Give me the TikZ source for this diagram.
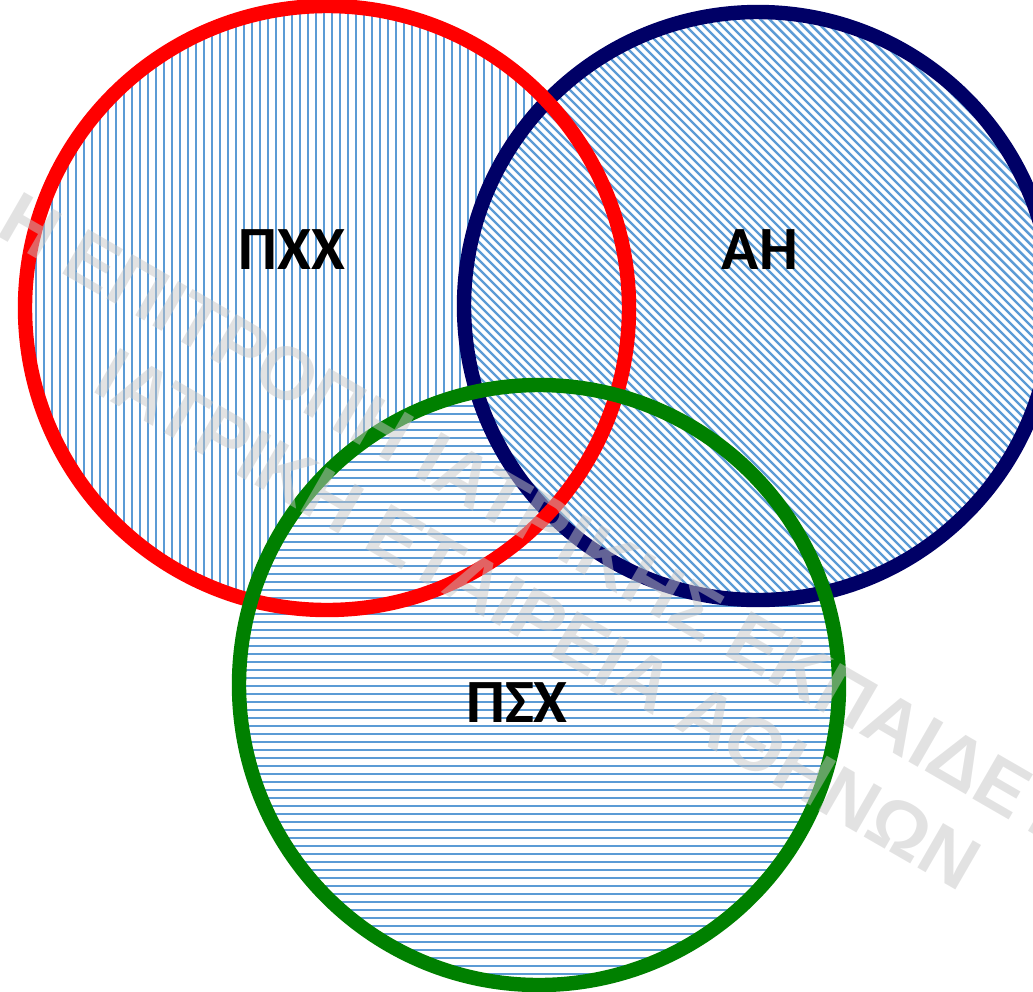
\documentclass[tikz,border=0pt]{standalone}
\usepackage{fontspec}
\setmainfont{Liberation Sans}
\newfontfamily\labelfont{Carlito}
\definecolor{hatchblue}{RGB}{91,155,213}
\definecolor{navyring}{RGB}{0,0,102}
\definecolor{greenring}{RGB}{0,128,0}
\begin{document}
\begin{tikzpicture}[x=0.02cm,y=-0.02cm,
  ring/.style={line width=8.2pt},
  hatch/.style={hatchblue,line width=1.2pt},
  setlabel/.style={font=\labelfont\fontsize{35}{35}\selectfont\bfseries,inner sep=0},
  wmark/.style={gray!45,opacity=0.5,font=\bfseries\fontsize{42.5}{42.5}\selectfont,rotate=-30,anchor=base west,inner sep=0}]
\useasboundingbox (0,0) rectangle (1033,991);
\clip (0,0) rectangle (1033,991);
\coordinate (R) at (327,308);
\coordinate (N) at (758,306);
\coordinate (G) at (539,685);
% red set, vertical lines
\fill[white] (R) circle (302);
\begin{scope}
\clip (R) circle (302);
\foreach \x in {20,28,...,640} \draw[hatch] (\x,0) -- (\x,620);
\end{scope}
% green set, horizontal lines
\fill[white] (G) circle (300);
\begin{scope}
\clip (G) circle (300);
\foreach \y in {382,390,...,990} \draw[hatch] (230,\y) -- (850,\y);
\end{scope}
% navy set, diagonal lines
\fill[white] (N) circle (294);
\begin{scope}
\clip (N) circle (294);
\foreach \c in {-150,-141,...,1060} \draw[hatch,line width=1.4pt] (\c,0) -- ({\c+620},620);
\end{scope}
% rings
\draw[ring,navyring] (N) circle (294);
\draw[ring,red] (R) circle (302);
\draw[ring,greenring] (G) circle (300);
% labels
\node[setlabel] (pxx) at (292,250) {ΠΧΧ};
\node[setlabel] (ah) at (760,250) {ΑΗ};
\node[setlabel] (psx) at (517,703) {ΠΣΧ};
% watermark
\node[wmark] (wm1) at (-6,234) {Η ΕΠΙΤΡΟΠΗ ΙΑΤΡΙΚΗΣ ΕΚΠΑΙΔΕΥΣΗΣ};
\node[wmark] (wm2) at (90,390) {ΙΑΤΡΙΚΗ ΕΤΑΙΡΕΙΑ ΑΘΗΝΩΝ};
\end{tikzpicture}
\end{document}
